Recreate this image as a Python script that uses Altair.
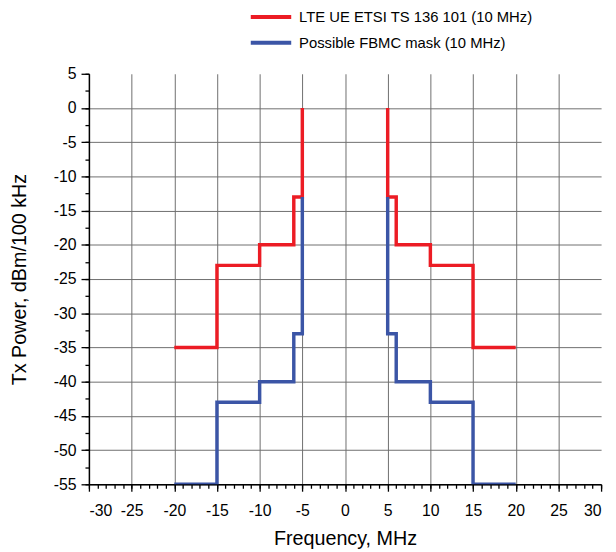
import altair as alt
import pandas as pd

series_names = ["LTE UE ETSI TS 136 101 (10 MHz)", "Possible FBMC mask (10 MHz)"]
series_colors = ["#ec1c24", "#3b55a6"]

# Step-mask vertices (frequency in MHz, power in dBm/100 kHz), left and right halves
lte_left_freq = [-20, -15, -15, -10, -10, -6, -6, -5, -5]
lte_left_power = [-35, -35, -23, -23, -20, -20, -13, -13, 0]
lte_right_freq = [5, 5, 6, 6, 10, 10, 15, 15, 20]
lte_right_power = [0, -13, -13, -20, -20, -23, -23, -35, -35]

fbmc_left_freq = [-20, -15, -15, -10, -10, -6, -6, -5, -5]
fbmc_left_power = [-55, -55, -43, -43, -40, -40, -33, -33, -13]
fbmc_right_freq = [5, 5, 6, 6, 10, 10, 15, 15, 20]
fbmc_right_power = [-13, -33, -33, -40, -40, -43, -43, -55, -55]

x_major = list(range(-30, 31, 5))
x_minor = list(range(-30, 31, 1))
y_major = list(range(-55, 6, 5))
y_minor = [-55 + 2.5 * i for i in range(25)]

rows = []
for name, part, fs, ps in [
    (series_names[0], "L", lte_left_freq, lte_left_power),
    (series_names[0], "R", lte_right_freq, lte_right_power),
    (series_names[1], "L", fbmc_left_freq, fbmc_left_power),
    (series_names[1], "R", fbmc_right_freq, fbmc_right_power),
]:
    for i, (f, p) in enumerate(zip(fs, ps)):
        rows.append({"freq": f, "power": p, "series": name, "part": part, "idx": i})
df = pd.DataFrame(rows)

FONT = "Liberation Sans"
HYPHEN_LABEL = "datum.value < 0 ? '-' + abs(datum.value) : '' + datum.value"
x_scale = alt.Scale(domain=[-30, 30], nice=False, zero=False)
y_scale = alt.Scale(domain=[-55, 5], nice=False, zero=False)

base = alt.Chart(df)

lines = base.mark_line(strokeWidth=3.5, clip=True).encode(
    x=alt.X(
        "freq:Q",
        scale=x_scale,
        axis=alt.Axis(
            orient="bottom",
            values=x_major,
            title="Frequency, MHz",
            labelExpr=HYPHEN_LABEL,
            grid=True,
            gridColor="#6e6e6e",
            gridWidth=1,
            gridOpacity={"condition": {"test": "datum.value >= 30", "value": 0}, "value": 1},
            tickSize=7,
            labelPadding=12,
            labelFontSize=16,
            titleFontSize=20,
            titlePadding=10,
        ),
    ),
    y=alt.Y(
        "power:Q",
        scale=y_scale,
        axis=alt.Axis(
            orient="left",
            values=y_major,
            title="Tx Power, dBm/100 kHz",
            labelExpr=HYPHEN_LABEL,
            grid=True,
            gridColor="#6e6e6e",
            gridWidth=1,
            gridOpacity={"condition": {"test": "datum.value >= 5", "value": 0}, "value": 1},
            tickSize=8,
            labelPadding=5,
            labelFontSize=16,
            titleFontSize=20,
            titlePadding=24,
        ),
    ),
    color=alt.Color(
        "series:N",
        scale=alt.Scale(domain=series_names, range=series_colors),
        legend=alt.Legend(
            orient="none",
            legendX=172,
            legendY=-70,
            direction="vertical",
            title=None,
            symbolType="M-2,0L2,0",
            symbolStrokeWidth=4,
            symbolSize=420,
            labelFontSize=15,
            labelOffset=16,
            labelFont=FONT,
            labelLimit=0,
            rowPadding=5,
            padding=0,
        ),
    ),
    detail="part:N",
    order="idx:Q",
)

minor = base.mark_point(opacity=0).encode(
    x=alt.X(
        "freq:Q",
        scale=x_scale,
        axis=alt.Axis(
            orient="bottom",
            values=x_minor,
            labels=False,
            grid=False,
            domain=False,
            tickSize=4,
            title=None,
        ),
    ),
    y=alt.Y(
        "power:Q",
        scale=y_scale,
        axis=alt.Axis(
            orient="left",
            values=y_minor,
            labels=False,
            grid=False,
            domain=False,
            tickSize=4,
            title=None,
        ),
    ),
)

chart = (
    alt.layer(minor, lines)
    .resolve_axis(x="independent", y="independent")
    .properties(
        width=519,
        height=416,
        autosize=alt.AutoSizeParams(type="none"),
        padding={"left": 82, "top": 63, "right": 7, "bottom": 70},
    )
    .configure_view(stroke=None)
    .configure_axis(
        domainColor="#000000",
        domainWidth=1.5,
        tickColor="#000000",
        tickWidth=1.3,
        labelColor="#000000",
        titleColor="#000000",
        labelFont=FONT,
        titleFont=FONT,
        titleFontWeight="normal",
    )
    .configure_legend(labelColor="#000000")
)

chart.save("out.html", embed_options={"renderer": "svg", "actions": False})
